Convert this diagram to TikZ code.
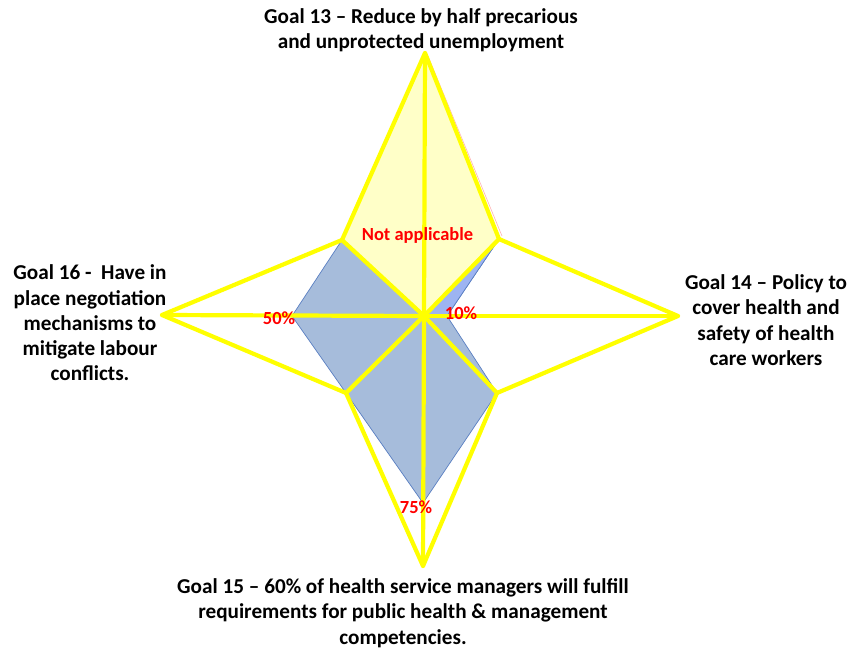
\documentclass[tikz,border=0pt]{standalone}
\usepackage{fontspec}
\setmainfont{Carlito}
\definecolor{starline}{HTML}{FFFF00}
\definecolor{paleyellow}{HTML}{FFFFC8}
\definecolor{bluefill}{HTML}{A6BCDB}
\definecolor{bluefill2}{HTML}{9DB4F2}
\definecolor{blueedge}{HTML}{5A7FC2}
\begin{document}
\begin{tikzpicture}[x=1pt,y=-1pt,
  starstroke/.style={draw=starline,line width=4.2pt,line join=round,line cap=round},
  goal/.style={font=\bfseries\fontsize{21.2}{25.3}\selectfont,align=center,text=black,inner sep=0pt},
  pct/.style={font=\bfseries\fontsize{18.5}{20}\selectfont,text=red,inner sep=0pt}]
\useasboundingbox (0,0) rectangle (852,653);
% axis points
\coordinate (C) at (424,316);
\coordinate (T) at (425,53);
\coordinate (UR) at (499,239);
\coordinate (R) at (678,316);
\coordinate (LR) at (497,393);
\coordinate (B) at (423,566);
\coordinate (LL) at (346,393);
\coordinate (L) at (162,315);
\coordinate (UL) at (342,240);
% data points
\coordinate (dR) at (447,316);
\coordinate (dB) at (423,503);
\coordinate (dL) at (292,316);
% yellow "not applicable" area
\fill[paleyellow] (T) -- (UR) -- (C) -- (UL) -- cycle;
\draw[red!30,line width=0.6pt] (428,56) -- (502,236);
% blue data area
\filldraw[fill=bluefill,draw=blueedge,line width=0.7pt,line join=round]
  (C) -- (UR) -- (dR) -- (LR) -- (dB) -- (LL) -- (dL) -- (UL) -- cycle;
\filldraw[fill=bluefill2,draw=blueedge,line width=0.7pt,line join=round]
  (C) -- (UR) -- (dR) -- cycle;
% star outline and spokes
\draw[starstroke] (T) -- (UR) -- (R) -- (LR) -- (B) -- (LL) -- (L) -- (UL) -- cycle;
\foreach \p in {T,UR,R,LR,B,LL,L,UL} \draw[starstroke] (C) -- (\p);
% labels
\node[pct] (na) at (417.5,235) {Not applicable};
\node[pct] (p10) at (461,313) {10\%};
\node[pct] (p50) at (279,318) {50\%};
\node[pct] (p75) at (416,507) {75\%};
\node[goal] (g13) at (421,30) {Goal 13 – Reduce by half precarious\\and unprotected unemployment};
\node[goal] (g16) at (90,323) {Goal 16 -~ Have in\\place negotiation\\mechanisms to\\mitigate labour\\conflicts.};
\node[goal] (g14) at (766,320) {Goal 14 – Policy to\\cover health and\\safety of health\\care workers};
\node[goal] (g15) at (403,613) {Goal 15 – 60\% of health service managers will fulfill\\requirements for public health \& management\\competencies.};
\end{tikzpicture}
\end{document}
